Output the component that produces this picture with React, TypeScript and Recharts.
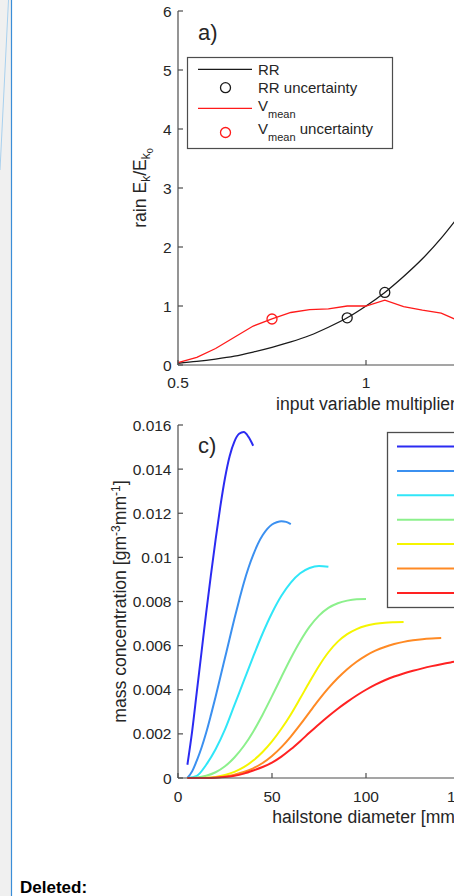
import React from "react";
import { ComposedChart, Line, Scatter, XAxis, YAxis } from "recharts";

const FONT = "'Liberation Sans', Arial, Helvetica, sans-serif";
const AXIS = "#4d4d4d";
const TXT = "#262626";

// ---- panel a: rain kinetic energy ratio vs. input multiplier
const multiplier = [0.5, 0.55, 0.6, 0.65, 0.7, 0.75, 0.8, 0.85, 0.9, 0.95, 1.0, 1.05, 1.1, 1.15, 1.2, 1.25];
const rrRatio = [0.03, 0.06, 0.1, 0.15, 0.22, 0.3, 0.39, 0.5, 0.64, 0.8, 1.0, 1.23, 1.5, 1.8, 2.15, 2.55];
const vmeanRatio = [0.04, 0.13, 0.28, 0.47, 0.66, 0.78, 0.89, 0.94, 0.95, 1.0, 1.0, 1.1, 0.99, 0.93, 0.88, 0.74];
const rrUncertainty = [
  { m: 0.95, ratio: 0.8 },
  { m: 1.05, ratio: 1.23 },
];
const vmeanUncertainty = [{ m: 0.75, ratio: 0.78 }];
const aXTicks = [0.5, 1, 1.5];
const aYTicks = [0, 1, 2, 3, 4, 5, 6];

// ---- panel c: hail mass concentration vs. diameter
const dBlue = [5, 7.5, 10, 12.5, 15, 17.5, 20, 22.5, 25, 27.5, 30, 32.5, 35, 37.5, 40];
const mBlue = [0.0006, 0.0021, 0.0039, 0.0057, 0.0075, 0.0092, 0.0108, 0.0123, 0.0136, 0.0146, 0.01525, 0.0156, 0.01568, 0.01546, 0.01506];
const dAzure = [5, 7.5, 10, 12.5, 15, 17.5, 20, 22.5, 25, 27.5, 30, 32.5, 35, 37.5, 40, 42.5, 45, 47.5, 50, 52.5, 55, 57.5, 60];
const mAzure = [0.0, 0.0003, 0.00079, 0.00137, 0.00206, 0.00285, 0.00368, 0.00457, 0.00545, 0.00633, 0.00722, 0.00805, 0.00884, 0.00953, 0.01011, 0.01061, 0.011, 0.01129, 0.01149, 0.01159, 0.01164, 0.01161, 0.01151];
const dCyan = [5, 10, 15, 20, 25, 30, 35, 40, 45, 50, 55, 60, 65, 70, 75, 80];
const mCyan = [0.0, 0.0001, 0.0006, 0.0013, 0.0022, 0.0033, 0.0044, 0.0055, 0.00655, 0.00748, 0.00826, 0.00886, 0.00928, 0.00952, 0.00961, 0.00957];
const dGreen = [5, 10, 15, 20, 25, 30, 35, 40, 45, 50, 55, 60, 65, 70, 75, 80, 85, 90, 95, 100];
const mGreen = [0.0, 0.00002, 0.0001, 0.00026, 0.00053, 0.00093, 0.00145, 0.0021, 0.00287, 0.00371, 0.00458, 0.00543, 0.0062, 0.00686, 0.00736, 0.00771, 0.00792, 0.00804, 0.0081, 0.00811];
const dYellow = [5, 10, 15, 20, 25, 30, 35, 40, 45, 50, 55, 60, 65, 70, 75, 80, 85, 90, 95, 100, 105, 110, 115, 120];
const mYellow = [0.0, 0.0, 0.00001, 0.00005, 0.00014, 0.00028, 0.00049, 0.00079, 0.00118, 0.00166, 0.00223, 0.00288, 0.00361, 0.00436, 0.00508, 0.0057, 0.00618, 0.00652, 0.00675, 0.0069, 0.00699, 0.00704, 0.00706, 0.00707];
const dOrange = [5, 10, 15, 20, 25, 30, 35, 40, 45, 50, 55, 60, 65, 70, 75, 80, 85, 90, 95, 100, 105, 110, 115, 120, 125, 130, 135, 140];
const mOrange = [0.0, 0.0, 0.0, 0.00002, 0.00007, 0.00015, 0.00027, 0.00044, 0.00068, 0.001, 0.0014, 0.00188, 0.00242, 0.00299, 0.00355, 0.00407, 0.00453, 0.00493, 0.00527, 0.00555, 0.00577, 0.00594, 0.00607, 0.00617, 0.00624, 0.00629, 0.00632, 0.00634];
const dRed = [5, 10, 15, 20, 25, 30, 35, 40, 45, 50, 55, 60, 65, 70, 75, 80, 85, 90, 95, 100, 105, 110, 115, 120, 125, 130, 135, 140, 145, 150];
const mRed = [0.0, 0.0, 0.0, 0.00001, 0.00004, 0.0001, 0.0002, 0.00034, 0.0005, 0.0007, 0.00097, 0.0013, 0.00167, 0.00206, 0.00244, 0.0028, 0.00314, 0.00345, 0.00374, 0.004, 0.00423, 0.00443, 0.0046, 0.00474, 0.00486, 0.00497, 0.00507, 0.00516, 0.00524, 0.00531];
const hailColors = ["#2b2bf2", "#3b90f0", "#30e6f8", "#8cf08c", "#f5f500", "#ff8a24", "#ff2222"];
const cXTicks = [0, 50, 100, 150, 200];
const cYTicks = [0, 0.002, 0.004, 0.006, 0.008, 0.01, 0.012, 0.014, 0.016];

const panelAData = multiplier.map((m, i) => ({ m, rr: rrRatio[i], vmean: vmeanRatio[i] }));

const hailSeries = [
  [dBlue, mBlue],
  [dAzure, mAzure],
  [dCyan, mCyan],
  [dGreen, mGreen],
  [dYellow, mYellow],
  [dOrange, mOrange],
  [dRed, mRed],
].map(([ds, ms], i) => ({
  color: hailColors[i],
  data: ds.map((d, j) => ({ d, mass: ms[j] })),
}));

const tickStyle = { fill: TXT, fontSize: 15.5, fontFamily: FONT };
const axisLine = { stroke: AXIS, strokeWidth: 1.2 };
const tickLine = { stroke: AXIS, strokeWidth: 1.2 };

const ring = (color: string) => (p: any) => (
  <circle cx={p.cx} cy={p.cy} r={5} fill="none" stroke={color} strokeWidth={1.3} />
);

const xLabel = (text: string) => (props: any) => {
  const vb = props.viewBox;
  return (
    <text x={vb.x + vb.width / 2} y={vb.y + 44.5} textAnchor="middle" fill={TXT} fontSize={17.6} fontFamily={FONT}>
      {text}
    </text>
  );
};

const yLabelA = (props: any) => {
  const vb = props.viewBox;
  const cx = vb.x + 28;
  const cy = vb.y + vb.height / 2;
  return (
    <text x={cx} y={cy} transform={`rotate(-90, ${cx}, ${cy})`} textAnchor="middle" fill={TXT} fontSize={17.6} fontFamily={FONT}>
      rain E
      <tspan dy={4} fontSize={12}>k</tspan>
      <tspan dy={-4}>/E</tspan>
      <tspan dy={4} fontSize={12}>k</tspan>
      <tspan dy={3} fontSize={9}>0</tspan>
    </text>
  );
};

const yLabelC = (props: any) => {
  const vb = props.viewBox;
  const cx = vb.x + 8;
  const cy = vb.y + vb.height / 2;
  return (
    <text x={cx} y={cy} transform={`rotate(-90, ${cx}, ${cy})`} textAnchor="middle" fill={TXT} fontSize={17.6} fontFamily={FONT}>
      mass concentration [gm
      <tspan dy={-6} fontSize={12}>-3</tspan>
      <tspan dy={6}>mm</tspan>
      <tspan dy={-6} fontSize={12}>-1</tspan>
      <tspan dy={6}>]</tspan>
    </text>
  );
};

function PanelA() {
  return (
    <div style={{ position: "absolute", left: 0, top: 0 }}>
      <ComposedChart width={600} height={420} data={panelAData} margin={{ top: 11, right: 46, left: 118, bottom: 0 }}>
        <XAxis xAxisId="top" orientation="top" type="number" dataKey="m" domain={[0.5, 1.5]} ticks={aXTicks}
          tick={false} tickSize={-5} height={0} axisLine={axisLine} tickLine={tickLine} />
        <XAxis type="number" dataKey="m" domain={[0.5, 1.5]} ticks={aXTicks} tickSize={-5} tickMargin={17}
          height={55} axisLine={axisLine} tickLine={tickLine} tick={tickStyle} label={xLabel("input variable multiplier")} />
        <YAxis type="number" domain={[0, 6]} ticks={aYTicks} width={60} tickSize={-5} tickMargin={11.5}
          axisLine={axisLine} tickLine={tickLine} tick={tickStyle} label={yLabelA} />
        <Line dataKey="rr" type="monotone" stroke="#1a1a1a" strokeWidth={1.3} dot={false} isAnimationActive={false} />
        <Line dataKey="vmean" type="linear" stroke="#ff1a1a" strokeWidth={1.3} dot={false} isAnimationActive={false} />
        <Scatter data={rrUncertainty} dataKey="ratio" shape={ring("#1a1a1a")} isAnimationActive={false} />
        <Scatter data={vmeanUncertainty} dataKey="ratio" shape={ring("#ff1a1a")} isAnimationActive={false} />
      </ComposedChart>
      <svg width={454} height={160} style={{ position: "absolute", left: 0, top: 0, pointerEvents: "none" }}>
        <text x={198} y={40} fontSize={22} fill={TXT} fontFamily={FONT}>a)</text>
        <rect x={187.5} y={57.5} width={205} height={91} fill="#fff" stroke={AXIS} strokeWidth={1.2} />
        <g fontFamily={FONT} fontSize={15} fill={TXT}>
          <line x1={198} x2={252} y1={69.3} y2={69.3} stroke="#1a1a1a" strokeWidth={1.3} />
          <text x={258} y={75}>RR</text>
          <circle cx={225.5} cy={87.7} r={5} fill="none" stroke="#1a1a1a" strokeWidth={1.3} />
          <text x={258} y={93}>RR uncertainty</text>
          <line x1={198} x2={252} y1={108.3} y2={108.3} stroke="#ff1a1a" strokeWidth={1.3} />
          <text x={258} y={110.5}>V<tspan dy={7} fontSize={11}>mean</tspan></text>
          <circle cx={225.5} cy={132.5} r={5} fill="none" stroke="#ff1a1a" strokeWidth={1.3} />
          <text x={258} y={133.5}>V<tspan dy={7} fontSize={11}>mean</tspan><tspan dy={-7}> uncertainty</tspan></text>
        </g>
      </svg>
    </div>
  );
}

function PanelC() {
  return (
    <div style={{ position: "absolute", left: 0, top: 400 }}>
      <ComposedChart width={600} height={433} margin={{ top: 25, right: 46, left: 118, bottom: 0 }}>
        <XAxis xAxisId="top" orientation="top" type="number" dataKey="d" domain={[0, 200]} ticks={cXTicks}
          tick={false} tickSize={-5} height={0} axisLine={axisLine} tickLine={tickLine} />
        <XAxis type="number" dataKey="d" domain={[0, 200]} ticks={cXTicks} tickSize={-5} tickMargin={17.5}
          height={55} axisLine={axisLine} tickLine={tickLine} tick={tickStyle} label={xLabel("hailstone diameter [mm]")} />
        <YAxis type="number" domain={[0, 0.016]} ticks={cYTicks} width={60} tickSize={-5} tickMargin={11.5}
          axisLine={axisLine} tickLine={tickLine} tick={tickStyle} label={yLabelC} />
        {hailSeries.map((s, i) => (
          <Line key={i} data={s.data} dataKey="mass" type="monotone" stroke={s.color} strokeWidth={2}
            dot={false} isAnimationActive={false} />
        ))}
      </ComposedChart>
      <svg width={454} height={220} style={{ position: "absolute", left: 0, top: 0, pointerEvents: "none" }}>
        <text x={198} y={53} fontSize={22} fill={TXT} fontFamily={FONT}>c)</text>
        <rect x={387.5} y={32.5} width={150} height={175} fill="#fff" stroke={AXIS} strokeWidth={1.3} />
        {hailColors.map((c, i) => (
          <line key={c} x1={397} x2={470} y1={46.5 + i * 24.4} y2={46.5 + i * 24.4} stroke={c} strokeWidth={2} />
        ))}
      </svg>
    </div>
  );
}

export default function App() {
  return (
    <div style={{ position: "absolute", left: 0, top: 0, width: 454, height: 896, overflow: "hidden", background: "#fff" }}>
      <svg width={454} height={896} style={{ position: "absolute", left: 0, top: 0 }}>
        <rect x={0} y={0} width={11} height={896} fill="#f0f0f0" />
        <line x1={8.5} y1={0} x2={0} y2={170} stroke="#a8d0ee" strokeWidth={1} />
        <line x1={11.5} y1={0} x2={11.5} y2={896} stroke="#3a8ed8" strokeWidth={1.2} />
        <text x={20} y={893} fontSize={17} fontWeight="bold" fill="#000" fontFamily={FONT}>Deleted:</text>
      </svg>
      <PanelA />
      <PanelC />
    </div>
  );
}
